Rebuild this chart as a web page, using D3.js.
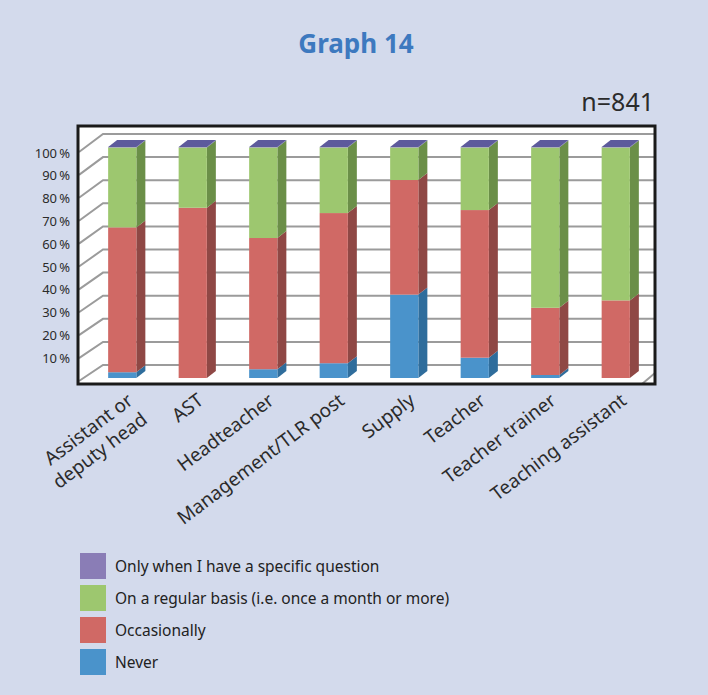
<!DOCTYPE html>
<html>
<head>
<meta charset="utf-8">
<script src="https://cdn.jsdelivr.net/npm/d3@7"></script>
<style>
  html, body { margin: 0; padding: 0; background: #d3daec; }
  svg { display: block; }
  text { font-family: "Noto Sans", "Open Sans", sans-serif; }
</style>
</head>
<body>
<svg id="chart" width="708" height="695"></svg>
<script>
// Job roles (x categories); first label wraps onto two lines
const categories = [
  ["Assistant or", "deputy head"], ["AST"], ["Headteacher"], ["Management/TLR post"],
  ["Supply"], ["Teacher"], ["Teacher trainer"], ["Teaching assistant"]
];

// Series, stacked bottom to top (percent of respondents)
const never        = [2.5, 0.0, 3.8, 6.4, 36.1, 8.8, 1.3, 0.0];
const occasionally = [62.7, 73.7, 56.8, 65.0, 49.6, 63.9, 29.1, 33.6];
const regular      = [34.6, 26.1, 39.2, 28.4, 14.1, 27.1, 69.4, 66.2];
const onlyQuestion = [0.2, 0.2, 0.2, 0.2, 0.2, 0.2, 0.2, 0.2];

const seriesNames = [
  "Never",
  "Occasionally",
  "On a regular basis (i.e. once a month or more)",
  "Only when I have a specific question"
];
const tickValues = [10, 20, 30, 40, 50, 60, 70, 80, 90, 100];

const colors = {
  "Never":        { front: "#4a93cb", side: "#2f6d9c" },
  "Occasionally": { front: "#d06965", side: "#8f4845" },
  "On a regular basis (i.e. once a month or more)": { front: "#9dc76f", side: "#6b8f48" },
  "Only when I have a specific question": { front: "#8a7db6", side: "#5d5a9c" }
};

const seriesData = [never, occasionally, regular, onlyQuestion];
const keys = categories.map(c => c.join(" "));
const rows = keys.map((k, i) => {
  const r = { key: k };
  seriesNames.forEach((s, j) => r[s] = seriesData[j][i]);
  return r;
});
const stacked = d3.stack().keys(seriesNames)(rows);

const svg = d3.select("#chart");

// Title and sample size
svg.append("text").attr("x", 356).attr("y", 53).attr("text-anchor", "middle")
  .attr("font-size", 26).attr("font-weight", "bold").attr("fill", "#3d79bf")
  .text("Graph 14");
svg.append("text").attr("x", 654).attr("y", 111).attr("text-anchor", "end")
  .attr("font-size", 25).attr("fill", "#2b2b2b")
  .text("n=841");

// Plot frame
const frame = { x0: 78, y0: 126, x1: 655, y1: 384 };
svg.append("defs").append("clipPath").attr("id", "plotClip")
  .append("rect").attr("x", frame.x0).attr("y", frame.y0)
  .attr("width", frame.x1 - frame.x0).attr("height", frame.y1 - frame.y0);
svg.append("rect").attr("x", frame.x0).attr("y", frame.y0)
  .attr("width", frame.x1 - frame.x0).attr("height", frame.y1 - frame.y0)
  .attr("fill", "#ffffff");

const plot = svg.append("g").attr("clip-path", "url(#plotClip)");

// Scales: front face of bars, back wall, and left side wall edge
const x = d3.scaleBand().domain(keys).range([87, 651]).paddingInner(0.6).paddingOuter(0.3);
const y = d3.scaleLinear().domain([0, 100]).range([378, 147]);
const yBack = d3.scaleLinear().domain([0, 100]).range([365, 134]);
const ySide = d3.scaleLinear().domain([0, 100]).range([381, 152]);
const wallX = 103, sideX = 79;
const depth = { dx: 9, dy: -7 };

// Gridlines across back wall and down the side wall
const gridVals = d3.range(0, 101, 10);
plot.selectAll("path.grid").data(gridVals).join("path")
  .attr("class", "grid")
  .attr("d", v => `M${sideX},${ySide(v)}L${wallX},${yBack(v)}L${frame.x1},${yBack(v)}`)
  .attr("fill", "none").attr("stroke", "#9b9b9b").attr("stroke-width", 2);
// floor edge at bottom right corner
plot.append("path")
  .attr("d", `M${frame.x1 - 13},${frame.y1}L${frame.x1},${yBack(0) + 8}`)
  .attr("stroke", "#9b9b9b").attr("stroke-width", 2);

// 3D stacked bars
const bars = plot.selectAll("g.bar").data(keys).join("g").attr("class", "bar");
bars.each(function (k, i) {
  const g = d3.select(this);
  const x0 = x(k), w = x.bandwidth();
  stacked.forEach(layer => {
    const [v0, v1] = layer[i];
    if (v1 - v0 <= 0) return;
    const c = colors[layer.key];
    const yt = y(v1), yb = y(v0);
    g.append("path")
      .attr("d", `M${x0 + w},${yt}L${x0 + w + depth.dx},${yt + depth.dy}L${x0 + w + depth.dx},${yb + depth.dy}L${x0 + w},${yb}Z`)
      .attr("fill", c.side);
    g.append("rect").attr("x", x0).attr("y", yt).attr("width", w).attr("height", yb - yt)
      .attr("fill", c.front);
  });
  // top face, coloured by the topmost series
  const top = stacked[stacked.length - 1];
  const yt = y(top[i][1]);
  g.append("path")
    .attr("d", `M${x0},${yt}L${x0 + depth.dx},${yt + depth.dy}L${x0 + w + depth.dx},${yt + depth.dy}L${x0 + w},${yt}Z`)
    .attr("fill", colors[top.key].side);
});

// Frame border drawn on top
svg.append("rect").attr("x", frame.x0).attr("y", frame.y0)
  .attr("width", frame.x1 - frame.x0).attr("height", frame.y1 - frame.y0)
  .attr("fill", "none").attr("stroke", "#1a1a1a").attr("stroke-width", 3);

// Y axis labels
const yLabel = d3.scaleLinear().domain([0, 100]).range([381, 153]);
const yAxis = d3.axisLeft(yLabel).tickValues(tickValues).tickSize(0).tickPadding(0)
  .tickFormat(d => d + "\u202F%");
const ya = svg.append("g").attr("transform", "translate(70,0)").call(yAxis);
ya.select(".domain").remove();
ya.selectAll("text").attr("font-size", 13).attr("fill", "#2b2b2b")
  .attr("font-family", "'Noto Sans', sans-serif");

// Category labels, rotated
const labels = svg.selectAll("text.cat").data(categories).join("text")
  .attr("class", "cat")
  .attr("text-anchor", "end")
  .attr("font-size", 19).attr("fill", "#2b2b2b")
  .attr("transform", (c, i) => `translate(${x(keys[i]) + x.bandwidth() / 2 + 12},403) rotate(-37)`);
labels.each(function (c) {
  d3.select(this).selectAll("tspan").data(c).join("tspan")
    .attr("x", 0).attr("dy", (d, j) => j === 0 ? 0 : "1.25em").text(d => d);
});

// Legend, top series first
const legendOrder = seriesNames.slice().reverse();
const legend = svg.selectAll("g.legend").data(legendOrder).join("g")
  .attr("class", "legend")
  .attr("transform", (d, i) => `translate(80,${553 + i * 32})`);
legend.append("rect").attr("width", 26).attr("height", 26)
  .attr("fill", d => colors[d].front);
legend.append("text").attr("x", 35).attr("y", 19)
  .attr("font-size", 15.5).attr("fill", "#222")
  .text(d => d);
</script>
</body>
</html>
